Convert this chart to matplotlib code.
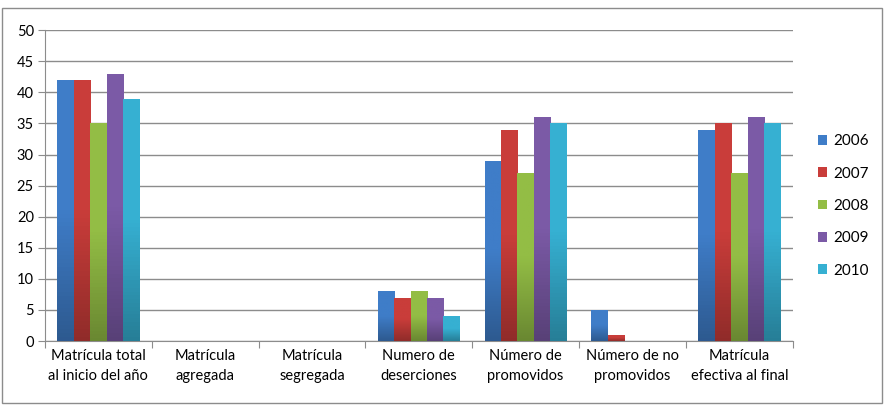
import numpy as np
import matplotlib.pyplot as plt
from matplotlib.patches import Rectangle
from matplotlib.colors import LinearSegmentedColormap, to_rgb

categorias = ["Matrícula total\nal inicio del año", "Matrícula\nagregada", "Matrícula\nsegregada",
              "Numero de\ndeserciones", "Número de\npromovidos", "Número de no\npromovidos",
              "Matrícula\nefectiva al final"]
anios = ["2006", "2007", "2008", "2009", "2010"]
v2006 = [42, 0, 0, 8, 29, 5, 34]
v2007 = [42, 0, 0, 7, 34, 1, 35]
v2008 = [35, 0, 0, 8, 27, 0, 27]
v2009 = [43, 0, 0, 7, 36, 0, 36]
v2010 = [39, 0, 0, 4, 35, 0, 35]
series = [v2006, v2007, v2008, v2009, v2010]
colores = ["#3f7dc8", "#c93d3a", "#93bd45", "#7b5aa6", "#36b0d2"]

plt.rcParams['font.family'] = ['Lato', 'DejaVu Sans']
fig = plt.figure(figsize=(8.87, 4.08), dpi=100)
ax = fig.add_axes([0.0507, 0.164, 0.843, 0.762])

n = len(categorias)
x = np.arange(n)
w = 1 / 6.5
grad = np.linspace(0, 1, 64).reshape(-1, 1)
for i, (vals, c) in enumerate(zip(series, colores)):
    bars = ax.bar(x - 2 * w + i * w, vals, w, color=c, label=anios[i], zorder=3)
    oscuro = tuple(0.72 * v for v in to_rgb(c))
    cmap = LinearSegmentedColormap.from_list("g", [oscuro, c, c])
    for b in bars:
        if b.get_height() <= 0:
            continue
        bx, by = b.get_x(), b.get_y()
        im = ax.imshow(grad, cmap=cmap, aspect="auto", origin="lower", zorder=3.5,
                       extent=(bx, bx + b.get_width(), by, by + b.get_height()))
        im.set_clip_path(b)

ax.set_xlim(-0.5, n - 0.5)
ax.set_ylim(0, 50)
ax.set_yticks(range(0, 51, 5))
ax.yaxis.grid(True, color="#8c8c8c", lw=1, zorder=0)
ax.set_xticks(np.arange(-0.5, n, 1))
ax.set_xticklabels([])
ax.set_xticks(x, minor=True)
ax.set_xticklabels(categorias, minor=True, fontsize=10.5, linespacing=1.5)
ax.tick_params(axis='x', which='minor', length=0, pad=6)
ax.tick_params(axis='x', which='major', length=5, color="#8c8c8c")
ax.tick_params(axis='y', length=5, color="#8c8c8c", labelsize=10.5, pad=3)
for s in ["top", "right"]:
    ax.spines[s].set_visible(False)
ax.spines["left"].set_color("#8c8c8c")
ax.spines["bottom"].set_color("#8c8c8c")

fig.legend(*ax.get_legend_handles_labels(), loc="center left",
           bbox_to_anchor=(804 / 887, 1 - 206 / 408), frameon=False,
           fontsize=11, handlelength=0.6, handleheight=0.6, labelspacing=1.2,
           handletextpad=0.45)

fig.patches.append(Rectangle((2 / 887, 5 / 408), 880 / 887, 395 / 408, transform=fig.transFigure,
                             fill=False, edgecolor="#8c8c8c", lw=1))
fig.savefig("out.png", dpi=100)
